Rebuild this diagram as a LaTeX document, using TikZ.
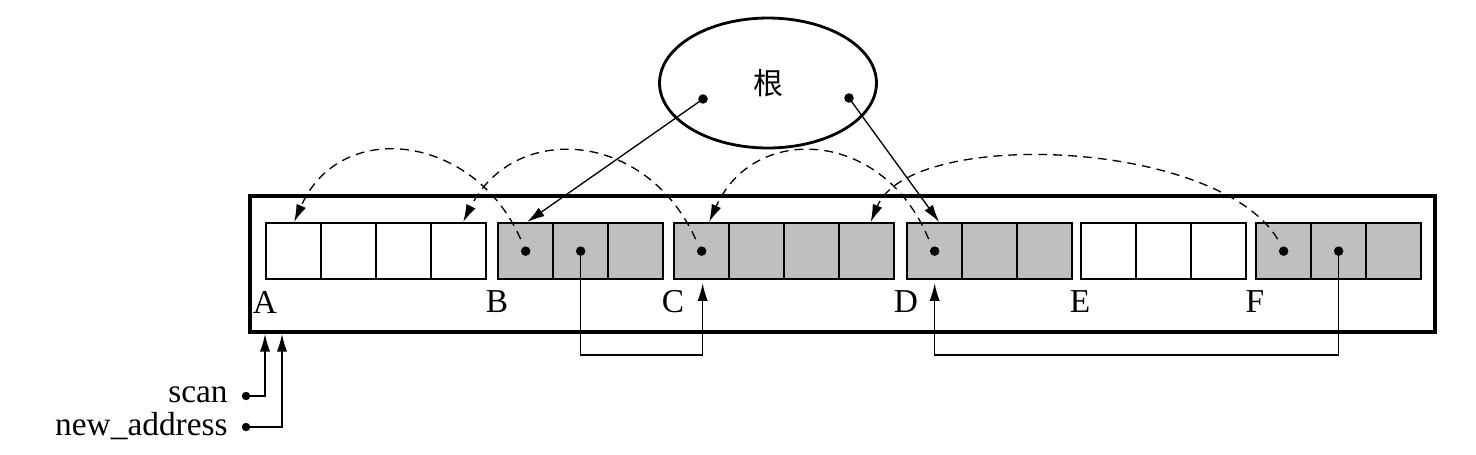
\documentclass[tikz,border=0pt]{standalone}
\usepackage{fontspec}
\setmainfont{Liberation Serif}
\newfontfamily\cjk{Noto Sans CJK SC}
\usepackage{tikz}
\usetikzlibrary{shapes, calc, arrows.meta}
\definecolor{cellgray}{RGB}{190,191,193}

\tikzset{
	cell/.style={draw, line width=1.3pt, minimum width=1.1cm, minimum height=1.12cm, inner sep=0pt, anchor=north west},
	free/.style={cell, fill=white},
	live/.style={cell, fill=cellgray},
	ptr/.style={line width=0.75pt, -{Latex[length=10pt, width=5.8pt]}},
	fwd/.style={ptr, dash pattern=on 5pt off 3.5pt},
	lbl/.style={font=\fontsize{19}{22}\selectfont, inner sep=0pt},
}

\begin{document}
\begin{tikzpicture}[x=0.02cm, y=-0.02cm]
	\useasboundingbox (0,0) rectangle (1476,454);
	%% heap and its objects
	\draw [line width=1.8pt] (250,196) rectangle (1435,332);
	\foreach \g/\x/\n/\s in {A/265/4/free, B/497/3/live, C/673/4/live, D/906/3/live, E/1080/3/free, F/1255/3/live}{
		\foreach \i in {1,...,\n}
			\node [\s] (\g\i) at ({\x+(\i-1)*55},222) {};
		\node [lbl] (lab\g) at (\x,302) {\g};
	}
	
	%% root set
	\node [draw, ellipse, line width=1.6pt, minimum width=4.34cm, minimum height=2.6cm] (root) at (768,83) {\cjk\fontsize{17}{20}\selectfont 根};
	\coordinate (r1) at (703,99);
	\coordinate (r2) at (849,98);
	\foreach \p in {r1, r2, B1.center, B2.center, C1.center, D1.center, F1.center, F2.center}
		\fill (\p) circle (2.7pt);
	\draw [ptr] (r1) -- ($(B1.north)+(1.5,0)$);
	\draw [ptr] (r2) -- ($(D1.north)+(4.5,0)$);
	
	%% forwarding pointers
	\draw [fwd] ($(B1.center)+(-5,-12)$) .. controls +(-46,-105) and +(46,-105) .. ($(A1.north)+(0.5,0)$);
	\draw [fwd] ($(C1.center)+(-6,-12)$) .. controls +(-50,-110) and +(50,-100) .. ($(A4.north)+(4.5,0)$);
	\draw [fwd] ($(D1.center)+(-6,-12)$) .. controls +(-45,-110) and +(45,-100) .. ($(C1.north)+(7.5,0)$);
	\draw [fwd] ($(F1.center)+(-6,-12)$) .. controls +(-60,-100) and +(40,-95) .. ($(C4.north)+(4,0)$);
	
	%% pointers inside objects
	\coordinate (low) at (0,355);
	\draw [ptr] (B2.center) -- (B2.center |- low) -| ($(C1.south)+(1,3)$);
	\draw [ptr] (F2.center) -- (F2.center |- low) -| ($(D1.south)+(0,3)$);
	
	%% scan and new_address
	\node [lbl, anchor=base east] (scan) at (228,402) {scan};
	\node [lbl, anchor=base east] (newaddr) at (228,435) {new\_address};
	\coordinate (s0) at (246,396);
	\coordinate (n0) at (246,427);
	\fill (s0) circle (2.4pt);
	\fill (n0) circle (2.4pt);
	\draw [ptr] (s0) -| (265,334);
	\draw [ptr] (n0) -| (282,334);
\end{tikzpicture}
\end{document}
